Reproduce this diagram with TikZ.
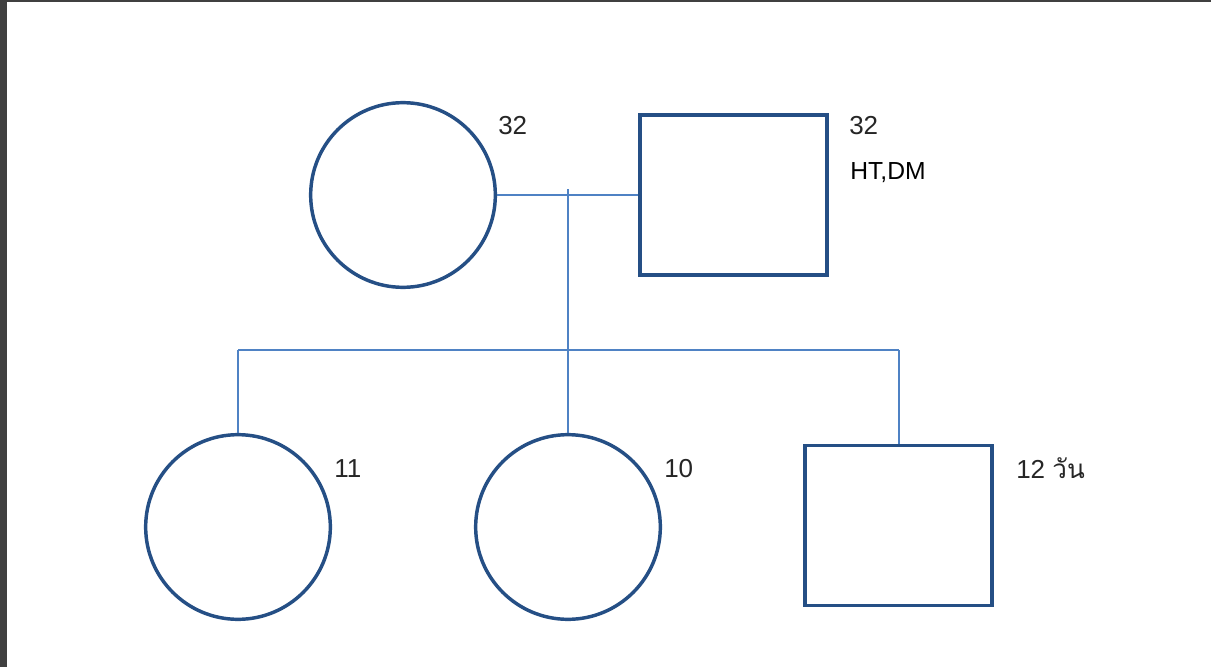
\documentclass[tikz,border=0pt]{standalone}
\usepackage{fontspec}
\setmainfont{Liberation Sans}
\newfontfamily\thaifont[Script=Thai]{Loma}
\begin{document}
\begin{tikzpicture}[x=0.75pt,y=-0.75pt,
  person/.style={draw=shapeblue,line width=2.6pt,fill=none,inner sep=0pt},
  female/.style={person,circle,minimum size=138.5pt},
  male/.style={person,rectangle,minimum width=140pt,minimum height=120pt},
  link/.style={draw=linkblue,line width=0.95pt},
  lbl/.style={inner sep=0pt,anchor=base west,font=\fontsize{19.5pt}{22pt}\selectfont,text=black!85}
]
\definecolor{shapeblue}{HTML}{254F85}
\definecolor{linkblue}{HTML}{4F82C4}
\definecolor{frame}{HTML}{404040}
\useasboundingbox (0,0) rectangle (1211,667);
\fill[white] (0,0) rectangle (1211,667);
\fill[frame] (0,0) rectangle (1211,2.5);
\fill[frame] (0,0) rectangle (7,667);

% parents
\node[female] (mother) at (403,195) {};
\node[male] (father) at (733.5,195) {};
% children
\node[female] (c1) at (238,527) {};
\node[female] (c2) at (568,527) {};
\node[male] (c3) at (898.5,525.5) {};

\coordinate (mtop) at (568,189);
\coordinate (sibL) at (238,350);
\coordinate (sibR) at (899,350);

\draw[link] (mother.east) -- (mother.east -| father.west);
\draw[link] (mtop) -- (c2.north);
\draw[link] (sibL) -- (sibR);
\draw[link] (sibL) -- (c1.north);
\draw[link] (sibR) -- (sibR |- c3.north);

% labels
\node[lbl] (lm) at (498,135) {32};
\node[lbl] (lf) at (849,135) {32};
\node[lbl,font=\fontsize{18.5pt}{21pt}\selectfont,text=black] (lfd) at (850,180) {HT,DM};
\node[lbl] (l1) at (334,477) {11};
\node[lbl] (l2) at (664,477) {10};
\node[lbl] (l3) at (1016,478) {12 {\thaifont วัน}};
\end{tikzpicture}
\end{document}
